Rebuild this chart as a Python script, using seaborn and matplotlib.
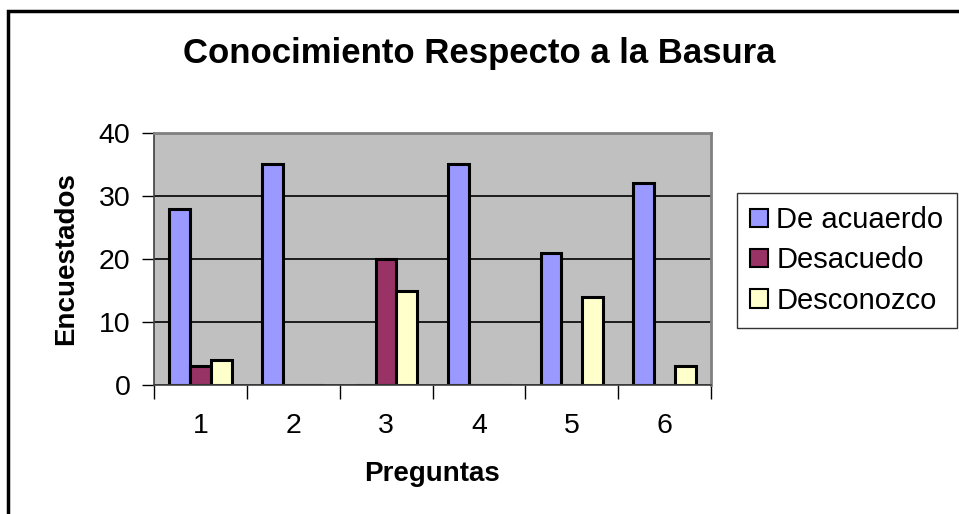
import numpy as np
import pandas as pd
import matplotlib
matplotlib.use("Agg")
import matplotlib.pyplot as plt
import seaborn as sns
from matplotlib.patches import Rectangle

preguntas = ["1", "2", "3", "4", "5", "6"]
de_acuerdo = [28, 35, 0, 35, 21, 32]
desacuerdo = [3, 0, 20, 0, 0, 0]
desconozco = [4, 0, 15, 0, 14, 3]
series = ["De acuaerdo", "Desacuedo", "Desconozco"]
colores = ["#9999FF", "#993366", "#FFFFCC"]

df = pd.DataFrame({
    "Pregunta": preguntas * 3,
    "Respuesta": [series[0]] * 6 + [series[1]] * 6 + [series[2]] * 6,
    "Encuestados": de_acuerdo + desacuerdo + desconozco,
})

sns.set_style("white")
plt.rcParams["font.family"] = ["Liberation Sans", "DejaVu Sans"]
plt.rcParams["text.color"] = "black"
plt.rcParams["axes.labelcolor"] = "black"
plt.rcParams["xtick.color"] = "black"
plt.rcParams["ytick.color"] = "black"

fig = plt.figure(figsize=(9.59, 5.14), dpi=100)
ax = fig.add_axes([154 / 959, 1 - 385 / 514, (711 - 154) / 959, (385 - 133) / 514])
ax.set_facecolor("#C0C0C0")

sns.barplot(data=df, x="Pregunta", y="Encuestados", hue="Respuesta",
            palette=colores, saturation=1, width=0.67, edgecolor="black",
            linewidth=2.2, ax=ax, legend=True)

ax.set_ylim(0, 40)
ax.set_xlim(-0.5, 5.5)
ax.set_yticks([0, 10, 20, 30, 40])
ax.yaxis.grid(True, color="black", linewidth=1.2)
ax.set_axisbelow(True)
ax.tick_params(axis="y", labelsize=20.5, length=9, width=1, direction="out", pad=8)
ax.tick_params(axis="x", which="major", labelsize=20.5, length=0, pad=20)
ax.set_xticks(np.arange(-0.5, 6.0, 1.0), minor=True)
ax.tick_params(axis="x", which="minor", length=10, width=1, direction="out")
ax.tick_params(left=True, bottom=True, which="both")

for s in ["top", "right"]:
    ax.spines[s].set_color("#808080")
    ax.spines[s].set_linewidth(2)
for s in ["left", "bottom"]:
    ax.spines[s].set_color("#404040")
    ax.spines[s].set_linewidth(1.2)

ax.set_xlabel("Preguntas", fontsize=20, fontweight="bold", labelpad=16)
ax.set_ylabel("Encuestados", fontsize=20, fontweight="bold", labelpad=14)

leg = ax.legend(loc="upper left", bbox_to_anchor=(737 / 959, 1 - 193 / 514),
                bbox_transform=fig.transFigure, fontsize=21, frameon=True,
                fancybox=False, edgecolor="black", handlelength=0.6,
                handleheight=0.6, handletextpad=0.3, labelspacing=0.42,
                borderpad=0.45, borderaxespad=0)
leg.get_frame().set_linewidth(1)
for h in leg.legend_handles:
    h.set_edgecolor("black")
    h.set_linewidth(1.5)

fig.text(0.5, 1 - 54 / 514, "Conocimiento Respecto a la Basura",
         ha="center", va="center", fontsize=25, fontweight="bold")

fig.patches.append(Rectangle((8 / 959, -0.1), 1.2, 1 - 11 / 514 + 0.1,
                             transform=fig.transFigure, fill=False,
                             edgecolor="black", linewidth=2.5))

fig.savefig("out.png", dpi=100)
